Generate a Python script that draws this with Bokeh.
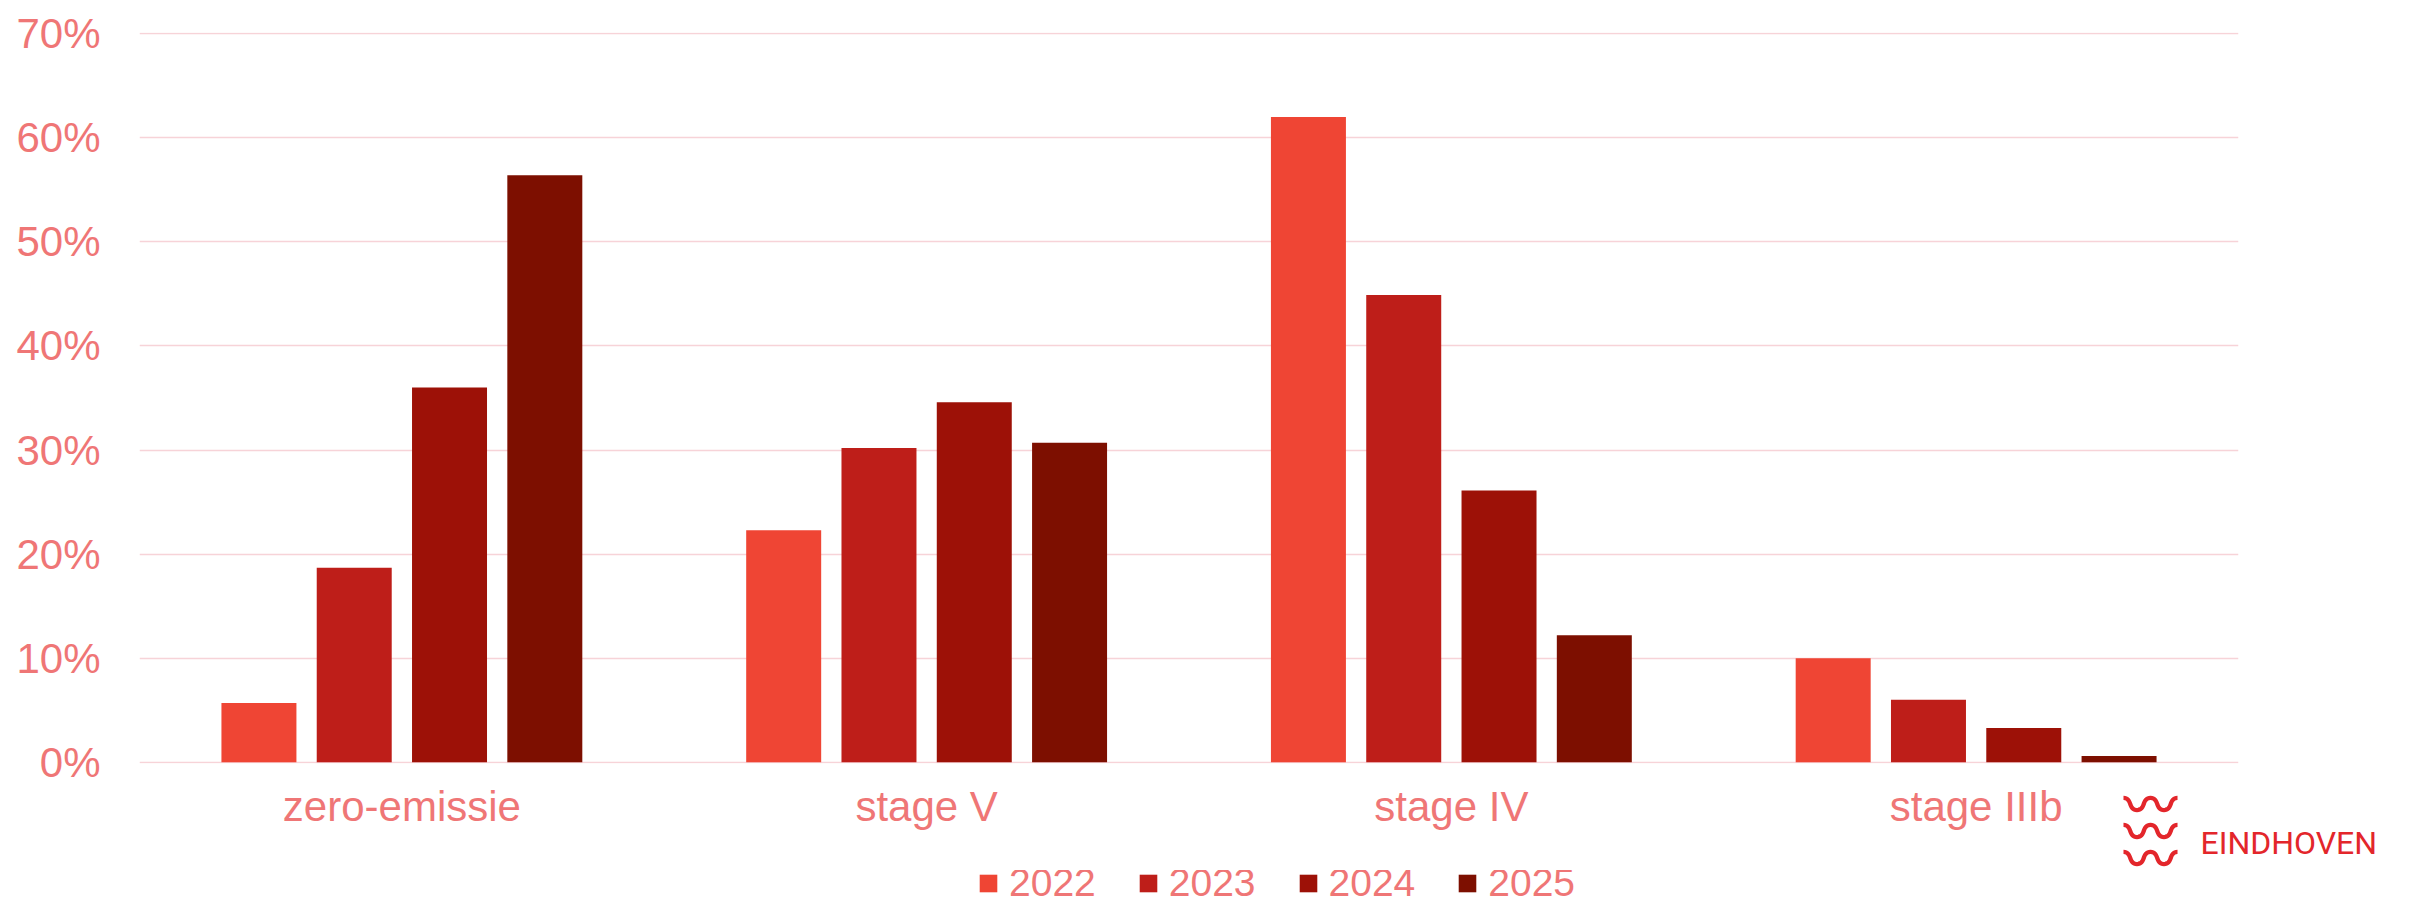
from bokeh.plotting import figure
from bokeh.layouts import column
from bokeh.models import (FactorRange, Range1d, FixedTicker, NumeralTickFormatter,
                          Legend, LegendItem, Label, ColumnDataSource)
from bokeh.transform import dodge
from bokeh.embed import file_html
from bokeh.resources import INLINE

# ---- data ----
categories = ["zero-emissie", "stage V", "stage IV", "stage IIIb"]
years = ["2022", "2023", "2024", "2025"]
v2022 = [0.057, 0.223, 0.620, 0.100]
v2023 = [0.187, 0.302, 0.449, 0.060]
v2024 = [0.360, 0.346, 0.261, 0.033]
v2025 = [0.564, 0.307, 0.122, 0.006]
y_ticks = [0.0, 0.1, 0.2, 0.3, 0.4, 0.5, 0.6, 0.7]
logo_text = "EINDHOVEN"

# ---- style ----
colors = ["#EF4534", "#BE1E19", "#9D1107", "#7D0F00"]
TEXT = "#EF7676"
GRID = "#F7D3D8"
FONT = "Liberation Sans"
LOGO_RED = "#E3262B"
W = 2414
HM, HL = 870, 29            # main figure height, legend strip height
FL, FR, FT, FB = 139, 2238, 32, 763  # frame edges in canvas px
Y0, Y1 = -0.0012, 0.7012

src = ColumnDataSource(dict(cat=categories, v2022=v2022, v2023=v2023, v2024=v2024, v2025=v2025))
step = 0.1816
bw = 0.1429

# ---------------- main chart ----------------
p = figure(width=W, height=HM, x_range=FactorRange(factors=categories),
           y_range=Range1d(Y0, Y1),
           output_backend="svg", toolbar_location=None,
           min_border_left=FL, min_border_right=W - FR, min_border_top=FT,
           min_border_bottom=HM - FB)
p.outline_line_color = None
p.background_fill_color = "white"
p.border_fill_color = "white"

for i, (yr, col) in enumerate(zip(years, colors)):
    p.vbar(x=dodge("cat", (i - 1.5) * step, range=p.x_range), top="v" + yr, width=bw,
           source=src, fill_color=col, line_color=None)

p.xgrid.visible = False
p.ygrid.grid_line_color = GRID
p.ygrid.grid_line_width = 1.7
p.yaxis.ticker = FixedTicker(ticks=y_ticks)
p.yaxis.formatter = NumeralTickFormatter(format="0%")

for ax in (p.xaxis[0], p.yaxis[0]):
    ax.axis_line_color = None
    ax.major_tick_line_color = None
    ax.minor_tick_line_color = None
    ax.major_tick_out = 0
    ax.major_tick_in = 0
    ax.minor_tick_out = 0
    ax.major_label_text_font = FONT
    ax.major_label_text_font_size = "42px"
    ax.major_label_text_color = TEXT
p.yaxis.major_label_standoff = 39
p.xaxis.major_label_standoff = 19

# ---- logo (decoration): labels living in side panels so they are not clipped ----
PX = 4.0 / (FR - FL)
PY = (Y1 - Y0) / (FB - FT)


def to_data(cx, cy):
    return (cx - FL) * PX, Y0 + (FB - cy) * PY


tx, ty = to_data(2200, 842)
p.add_layout(Label(x=tx, y=ty, text=logo_text, text_font="Roboto", text_font_size="32px",
                   text_color=LOGO_RED, text_baseline="alphabetic", text_align="left"), "below")
wx, wy = to_data(2150, 828)
p.add_layout(Label(x=wx, y=wy, text="\u3030\n\u3030\n\u3030", text_font="Noto Sans CJK SC",
                   text_font_size="54px", text_font_style="bold", text_line_height=0.345,
                   text_color=LOGO_RED, text_baseline="middle", text_align="center"), "right")

# ---------------- legend strip ----------------
leg = figure(width=W, height=HL, x_range=FactorRange(factors=categories), y_range=Range1d(10, 11),
             x_axis_type=None, y_axis_type=None, output_backend="svg", toolbar_location=None,
             min_border=0)
leg.outline_line_color = None
leg.background_fill_color = "white"
leg.border_fill_color = "white"
leg_renderers = []
for i, (yr, col) in enumerate(zip(years, colors)):
    r = leg.vbar(x=dodge("cat", (i - 1.5) * step, range=leg.x_range), top="v" + yr, width=bw,
                 source=src, fill_color=col, line_color=None)
    leg_renderers.append(r)

legend = Legend(items=[LegendItem(label=y, renderers=[r]) for y, r in zip(years, leg_renderers)],
                orientation="horizontal", location=(838, -6),
                glyph_width=22, glyph_height=22, label_standoff=10, spacing=41,
                padding=0, margin=0, border_line_color=None, background_fill_alpha=0,
                label_text_font=FONT, label_text_font_size="39px", label_text_color=TEXT)
leg.add_layout(legend, "center")

layout = column(p, leg, spacing=0)
open("out.html", "w").write(file_html(layout, INLINE))
